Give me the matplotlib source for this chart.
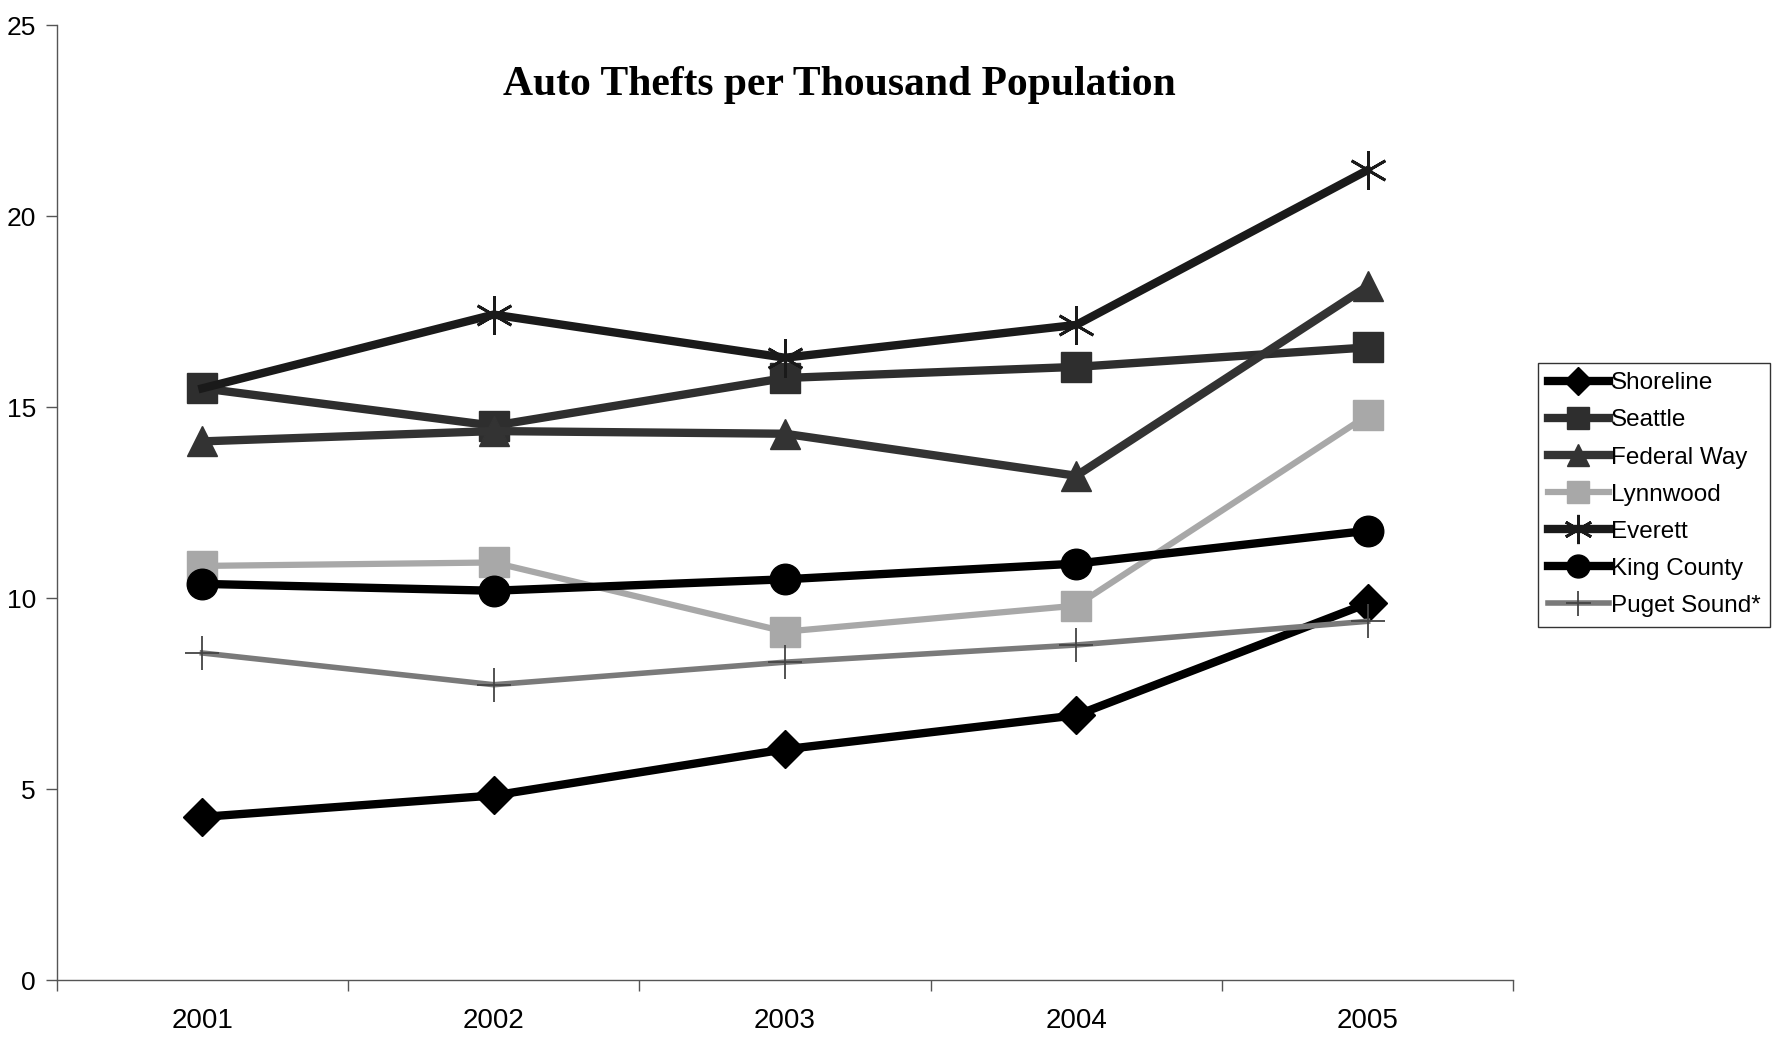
import numpy as np
import matplotlib.pyplot as plt

# Data
years = ['2001', '2002', '2003', '2004', '2005']
shoreline = [4.27, 4.83, 6.04, 6.93, 9.86]
seattle = [15.49, 14.51, 15.76, 16.05, 16.56]
federal_way = [14.1, 14.37, 14.3, 13.2, 18.16]
lynnwood = [10.84, 10.93, 9.12, 9.8, 14.78]
everett = [15.49, 17.42, 16.29, 17.15, 21.2]
king_county = [10.37, 10.19, 10.49, 10.9, 11.76]
puget_sound = [8.56, 7.73, 8.32, 8.77, 9.39]

plt.rcParams['font.family'] = ['Liberation Sans', 'DejaVu Sans']

fig = plt.figure(figsize=(17.74, 10.42), dpi=100)
ax = fig.add_axes([0.032, 0.0595, 0.821, 0.9165])

x = np.arange(1, len(years) + 1)

ax.plot(x, shoreline, color='black', lw=6, marker='D', ms=19, label='Shoreline')
ax.plot(x, seattle, color='#2e2e2e', lw=6, marker='s', ms=22, label='Seattle')
ax.plot(x, federal_way, color='#333333', lw=6, marker='^', ms=22, label='Federal Way')
ax.plot(x, lynnwood, color='#a8a8a8', lw=4.5, marker='s', ms=21, label='Lynnwood')
# the 2001 Everett point sits under the Seattle square
ax.plot(x, everett, color='#1a1a1a', lw=6, marker=(6, 2, 0), ms=28, mew=2,
        mec='#1a1a1a', markevery=[1, 2, 3, 4], label='Everett')
ax.plot(x, king_county, color='black', lw=6, marker='o', ms=22, label='King County')
ax.plot(x, puget_sound, color='#7a7a7a', lw=4, marker='+', ms=24, mew=1.3,
        mec='#444444', label='Puget Sound*')

ax.set_xlim(0.5, 5.5)
ax.set_ylim(0, 25)
ax.set_yticks([0, 5, 10, 15, 20, 25])
ax.set_xticks(x)
ax.set_xticklabels(years)
ax.set_xticks(np.arange(0.5, 6, 1), minor=True)
ax.tick_params(axis='x', which='major', length=0, pad=20, labelsize=20)
ax.tick_params(axis='x', which='minor', length=8, width=1, color='#555555')
ax.tick_params(axis='y', length=8, width=1, color='#555555', pad=7, labelsize=19)

for s in ['top', 'right']:
    ax.spines[s].set_visible(False)
for s in ['left', 'bottom']:
    ax.spines[s].set_color('#555555')
    ax.spines[s].set_linewidth(1)

fig.text(0.473, 0.918, 'Auto Thefts per Thousand Population', ha='center',
         va='center', fontsize=30, fontweight='bold', family='Liberation Serif')

leg = fig.legend(loc='upper left', bbox_to_anchor=(0.867, 0.652), fontsize=17.5,
                 handlelength=2.5, handletextpad=0.1, labelspacing=0.62,
                 borderpad=0.4, borderaxespad=0, fancybox=False,
                 edgecolor='black', frameon=True, markerscale=0.75)
leg.get_frame().set_linewidth(1)

fig.savefig('out.png', dpi=100, facecolor='white')
